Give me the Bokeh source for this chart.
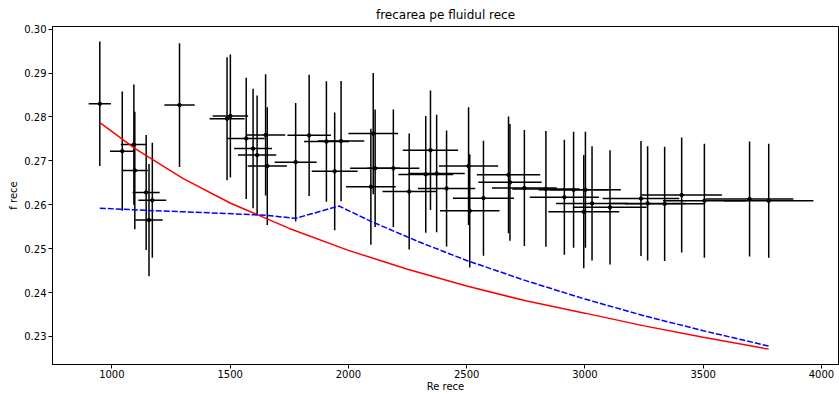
from bokeh.plotting import figure
from bokeh.models import Range1d, FixedTicker, NumeralTickFormatter
from bokeh.embed import file_html
from bokeh.resources import INLINE

# measured points (Re, f) with error bars
re_vals = [949, 1044, 1093, 1097, 1145, 1171, 1157, 1286, 1501, 1487,
           1568, 1597, 1614, 1650, 1657, 1777, 1834, 1907, 1969, 1942,
           2105, 2113, 2095, 2190, 2257, 2327, 2347, 2373, 2415, 2508,
           2513, 2571, 2677, 2683, 2744, 2835, 2913, 2952, 3002, 2995,
           3030, 3106, 3237, 3265, 3337, 3409, 3505, 3696, 3777]
f_vals = [0.2830, 0.2722, 0.2737, 0.2678, 0.2628, 0.2610, 0.2565, 0.2827, 0.2802, 0.2796,
          0.2751, 0.2728, 0.2713, 0.2759, 0.2688, 0.2697, 0.2758, 0.2744, 0.2745, 0.2676,
          0.2762, 0.2683, 0.2641, 0.2683, 0.2630, 0.2669, 0.2724, 0.2671, 0.2637, 0.2688,
          0.2586, 0.2615, 0.2668, 0.2651, 0.2638, 0.2636, 0.2617, 0.2634, 0.2634, 0.2584,
          0.2603, 0.2594, 0.2614, 0.2603, 0.2602, 0.2622, 0.2609, 0.2613, 0.2609]
re_err = [47, 52, 55, 55, 57, 59, 58, 64, 75, 74,
          78, 80, 81, 83, 83, 89, 92, 95, 98, 97,
          105, 106, 105, 110, 113, 116, 117, 119, 121, 125,
          126, 129, 134, 134, 137, 142, 146, 148, 150, 150,
          152, 155, 162, 163, 167, 170, 175, 185, 189]
f_err = [0.0142, 0.0136, 0.0137, 0.0134, 0.0131, 0.0131, 0.0128, 0.0141, 0.0140, 0.0140,
         0.0138, 0.0136, 0.0136, 0.0138, 0.0134, 0.0135, 0.0138, 0.0137, 0.0137, 0.0134,
         0.0138, 0.0134, 0.0132, 0.0134, 0.0132, 0.0133, 0.0136, 0.0134, 0.0132, 0.0134,
         0.0129, 0.0131, 0.0133, 0.0133, 0.0132, 0.0132, 0.0131, 0.0132, 0.0132, 0.0129,
         0.0130, 0.0130, 0.0131, 0.0130, 0.0130, 0.0131, 0.0130, 0.0131, 0.0130]

# red curve
red_re = [949, 1100, 1300, 1500, 1750, 2000, 2250, 2500, 2750, 3000, 3250, 3500, 3777]
red_f = [0.2787, 0.2727, 0.2660, 0.2604, 0.2546, 0.2496, 0.2453, 0.2415, 0.2381, 0.2353, 0.2324, 0.2298, 0.2271]

# blue dashed curve
blue_re = [949, 1150, 1350, 1650, 1777, 1960, 2100, 2300, 2500, 2750, 3000, 3250, 3500, 3777]
blue_f = [0.2592, 0.2587, 0.2583, 0.2576, 0.2569, 0.2597, 0.2561, 0.2515, 0.2473, 0.2427, 0.2385, 0.2347, 0.2313, 0.2278]

x_ticks = [1000, 1500, 2000, 2500, 3000, 3500, 4000]
y_ticks = [0.23, 0.24, 0.25, 0.26, 0.27, 0.28, 0.29, 0.30]

FONT = "DejaVu Sans"

p = figure(width=839, height=394, output_backend="svg", toolbar_location=None,
           x_range=Range1d(749, 4072), y_range=Range1d(0.2236, 0.3006),
           title="frecarea pe fluidul rece",
           min_border_left=52, min_border_right=1, min_border_top=5, min_border_bottom=0)

p.title.align = "center"
p.title.text_font = FONT
p.title.text_font_size = "12px"
p.title.text_font_style = "normal"
p.title.text_color = "black"
p.title.offset = 7

p.xgrid.visible = False
p.ygrid.visible = False
p.outline_line_color = "black"
p.outline_line_width = 1

for ax in (p.xaxis[0], p.yaxis[0]):
    ax.major_label_text_font = FONT
    ax.major_label_text_font_size = "10px"
    ax.major_label_text_color = "black"
    ax.axis_label_text_font = FONT
    ax.axis_label_text_font_size = "10px"
    ax.axis_label_text_font_style = "normal"
    ax.axis_label_text_color = "black"
    ax.minor_tick_line_color = None
    ax.major_tick_in = 0
    ax.major_tick_out = 4
    ax.axis_line_color = "black"
    ax.major_tick_line_color = "black"
    ax.major_label_standoff = 2
    ax.axis_label_standoff = 2

p.xaxis.axis_label = "Re rece"
p.yaxis.axis_label = "f rece"
p.xaxis.ticker = FixedTicker(ticks=x_ticks)
p.yaxis.ticker = FixedTicker(ticks=y_ticks)
p.yaxis.formatter = NumeralTickFormatter(format="0.00")
p.xaxis.axis_label_standoff = 0
p.xaxis.major_label_standoff = 1

# error bars
x0 = [x - e for x, e in zip(re_vals, re_err)]
x1 = [x + e for x, e in zip(re_vals, re_err)]
y0 = [y - e for y, e in zip(f_vals, f_err)]
y1 = [y + e for y, e in zip(f_vals, f_err)]
p.segment(x0=x0, y0=f_vals, x1=x1, y1=f_vals, line_color="black", line_width=1.5)
p.segment(x0=re_vals, y0=y0, x1=re_vals, y1=y1, line_color="black", line_width=1.5)
p.scatter(re_vals, f_vals, size=3.5, color="black")

p.line(red_re, red_f, line_color="red", line_width=1.5)
p.line(blue_re, blue_f, line_color="blue", line_width=1.5, line_dash="6 2")

open("out.html", "w").write(file_html(p, INLINE))
